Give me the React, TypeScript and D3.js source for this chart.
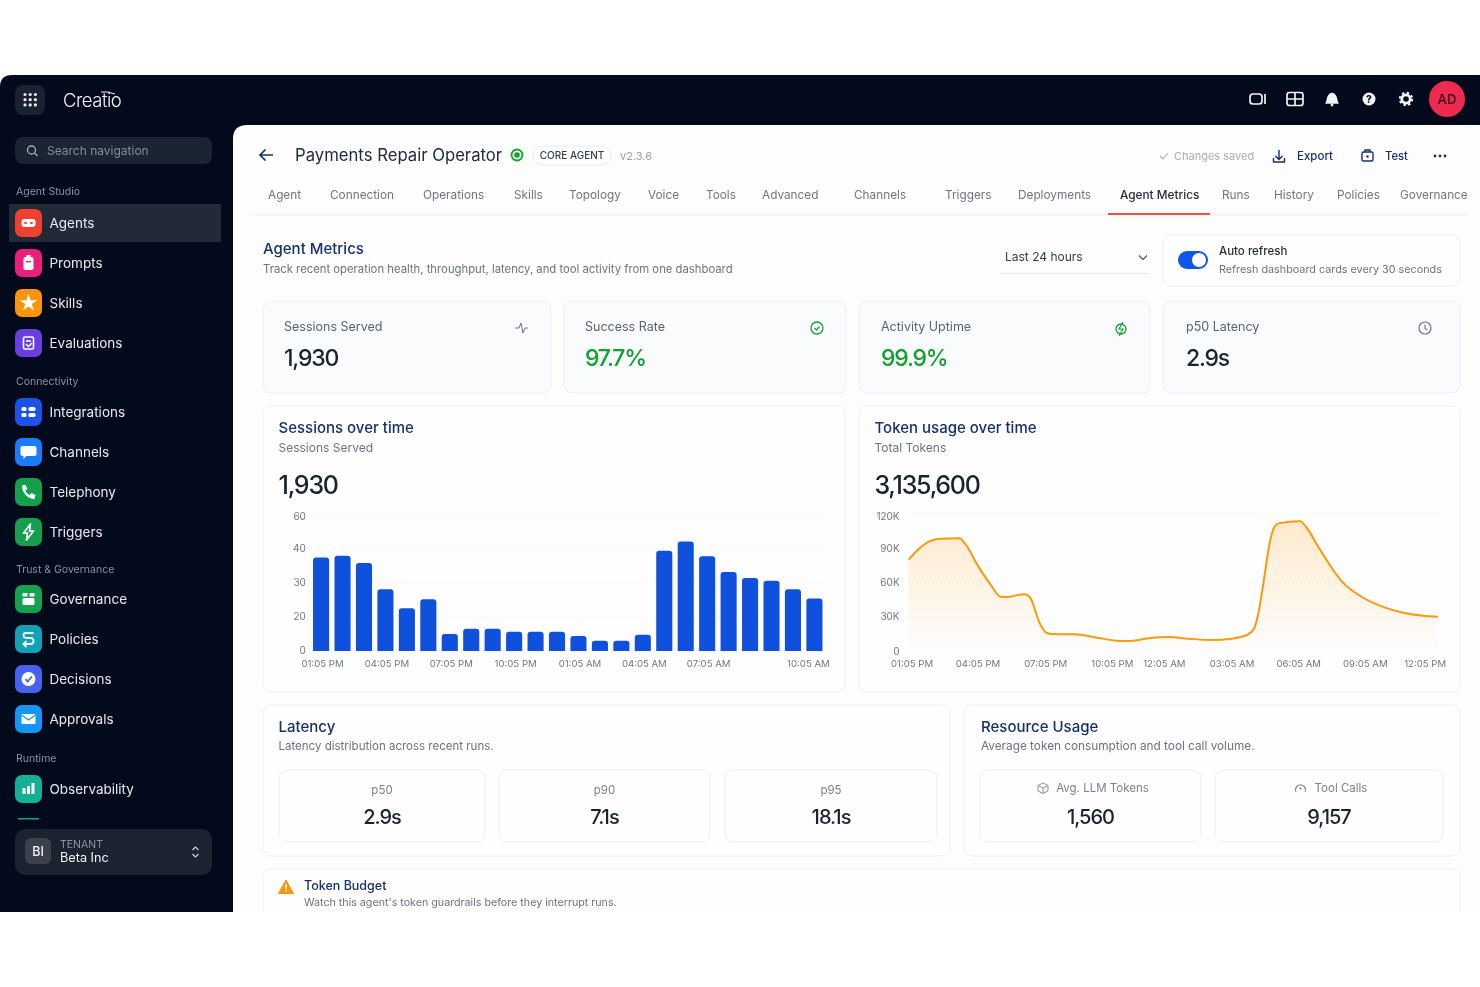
import React, { useEffect, useRef } from 'react';
import * as d3 from 'd3';

const FONT = 'Inter, "Noto Sans", sans-serif';
const NAVY = '#16306b';
const GRAY = '#6b7280';

// sessions chart, one bar per hour
const sessionLabels = ['01:05 PM', '', '', '04:05 PM', '', '', '07:05 PM', '', '', '10:05 PM', '', '', '01:05 AM', '', '', '04:05 AM', '', '', '07:05 AM', '', '', '', '', '10:05 AM'];
const sessionValues = [37.3, 37.8, 35.7, 28, 22.5, 25.1, 9.9, 13, 13, 11.3, 11.3, 11.3, 8.7, 6, 6, 9.5, 39.3, 43.9, 37.7, 33.1, 31.3, 30.5, 28, 25.3];
// the y labels are evenly spaced in the picture even though the steps differ
const sessionTicks = [0, 20, 30, 40, 60];

// token chart, hours since 01:05 PM
const tokenHours = [0, 0.39, 0.9, 1.32, 2.25, 2.5, 3.1, 3.6, 4.08, 4.29, 5.14, 5.36, 5.81, 6.07, 6.32, 7.34, 8.36, 9.2, 9.71, 10.73, 11.5, 12.4, 13.44, 14.3, 14.97, 15.3, 15.47, 15.73, 15.98, 16.24, 16.41, 17.34, 17.6, 18.19, 19.2, 20.05, 21.07, 21.9, 22.76, 23.44];
const tokenValues = [80000, 88300, 95800, 98200, 98700, 94000, 73700, 59000, 47500, 47200, 49800, 47500, 24200, 16300, 14900, 14600, 11700, 9000, 8700, 11400, 12200, 10800, 9600, 10800, 14000, 19800, 31500, 62000, 94000, 110000, 112000, 113600, 108600, 89700, 60600, 47500, 38200, 33500, 30900, 30000];
const tokenTicks = [0, 30000, 60000, 90000, 120000];
const tokenTickHours = [0.13, 3.05, 6.05, 9, 11.3, 14.3, 17.25, 20.2, 22.85];
const tokenTickLabels = ['01:05 PM', '04:05 PM', '07:05 PM', '10:05 PM', '12:05 AM', '03:05 AM', '06:05 AM', '09:05 AM', '12:05 PM'];

const navGroups = [
  { title: 'Agent Studio', y: 195 },
  { title: 'Connectivity', y: 385 },
  { title: 'Trust & Governance', y: 573 },
  { title: 'Runtime', y: 762 },
];
const navNames = ['Agents', 'Prompts', 'Skills', 'Evaluations', 'Integrations', 'Channels', 'Telephony', 'Triggers', 'Governance', 'Policies', 'Decisions', 'Approvals', 'Observability'];
const navY = [223, 263, 303, 343, 412, 452, 492, 532, 599, 639, 679, 719, 789];
const navColors = ['#ef4030', '#e81f7c', '#ff9408', '#6a3fe0', '#1c52e6', '#1a7bfb', '#15a04d', '#15a04d', '#14a24f', '#10a3b5', '#4663ef', '#1596f6', '#13b096'];

const tabNames = ['Agent', 'Connection', 'Operations', 'Skills', 'Topology', 'Voice', 'Tools', 'Advanced', 'Channels', 'Triggers', 'Deployments', 'Agent Metrics', 'Runs', 'History', 'Policies', 'Governance'];
const tabX = [268, 330, 423, 514, 569, 648, 706, 762, 854, 945, 1018, 1120, 1222, 1274, 1337, 1400];

const kpiNames = ['Sessions Served', 'Success Rate', 'Activity Uptime', 'p50 Latency'];
const kpiValues = ['1,930', '97.7%', '99.9%', '2.9s'];
const kpiColors = ['#1b2230', '#12a02f', '#12a02f', '#1b2230'];
const kpiX = [263, 564, 859, 1163];
const kpiW = [288, 282, 291, 297];
const kpiTextX = [284, 585, 881, 1186];

const topBarIconX = [1258, 1295, 1332, 1369, 1406];

function roundedTop(x: number, y: number, w: number, h: number, r: number) {
  const p = d3.path();
  p.moveTo(x, y + h);
  p.lineTo(x, y + r);
  p.quadraticCurveTo(x, y, x + r, y);
  p.lineTo(x + w - r, y);
  p.quadraticCurveTo(x + w, y, x + w, y + r);
  p.lineTo(x + w, y + h);
  p.closePath();
  return p.toString();
}

function styleAxis(g: any, size = 10) {
  g.select('.domain').remove();
  g.selectAll('text').attr('fill', '#6f7683').style('font-size', `${size}px`).style('font-family', FONT);
}

function SessionsChart() {
  const ref = useRef<SVGGElement>(null);
  useEffect(() => {
    const g = d3.select(ref.current);
    g.selectAll('*').remove();
    const left = 310.9, right = 824.6, top = 514, bottom = 651;

    const x = d3.scaleBand<number>().domain(d3.range(sessionValues.length)).range([left, right]).paddingInner(0.25).paddingOuter(0.1);
    const y = d3.scaleLinear().domain(sessionTicks).range(sessionTicks.map((_, i) => bottom - (i * (bottom - top)) / (sessionTicks.length - 1)));

    const yAxis = g.append('g').attr('transform', `translate(${left},0)`)
      .call(d3.axisLeft(y).tickValues(sessionTicks).tickSize(-(right - left)).tickPadding(5) as any);
    styleAxis(yAxis);
    yAxis.selectAll('line').attr('stroke', '#e6e8ec').attr('stroke-dasharray', '1,3');
    yAxis.selectAll('.tick').filter((d: any) => d === 0).select('line').remove();
    yAxis.selectAll('.tick').filter((d: any) => d === 60).select('text').attr('dy', '0.32em').attr('y', 2);
    yAxis.selectAll('.tick').filter((d: any) => d === 0).select('text').attr('y', -1);

    g.selectAll('.bar').data(sessionValues).enter().append('path')
      .attr('class', 'bar')
      .attr('fill', '#0f50dc')
      .attr('d', (d, i) => roundedTop(x(i) as number, y(d), x.bandwidth(), bottom - y(d), 3));

    const xAxis = g.append('g').attr('transform', `translate(0,${bottom})`)
      .call(d3.axisBottom(x).tickSize(0).tickPadding(9).tickFormat((i: any) => sessionLabels[i]) as any);
    styleAxis(xAxis, 9.6);
    xAxis.selectAll('text').attr('dx', 1.5);
    // last label is pulled in so it stays inside the card
    xAxis.selectAll('.tick').filter((d: any) => d === sessionValues.length - 1).select('text').attr('dx', -6);
  }, []);
  return <g ref={ref} />;
}

function TokensChart() {
  const ref = useRef<SVGGElement>(null);
  useEffect(() => {
    const g = d3.select(ref.current);
    g.selectAll('*').remove();
    const left = 908.6, right = 1438, top = 514, bottom = 651;

    const x = d3.scaleLinear().domain([0, 23.44]).range([left, right]);
    const y = d3.scaleLinear().domain([0, 120000]).range([bottom, top]);

    const yAxis = g.append('g').attr('transform', `translate(${left},0)`)
      .call(d3.axisLeft(y).tickValues(tokenTicks).tickSize(-(right - left)).tickPadding(9)
        .tickFormat((d: any) => (d === 0 ? '0' : `${d / 1000}K`)) as any);
    styleAxis(yAxis);
    yAxis.selectAll('line').attr('stroke', '#e6e8ec').attr('stroke-dasharray', '1,3');
    yAxis.selectAll('.tick').filter((d: any) => d === 0).select('line').remove();
    yAxis.selectAll('.tick').filter((d: any) => d === 120000).select('text').attr('y', 2);

    const pts = tokenHours.map((h, i) => [h, tokenValues[i]] as [number, number]);
    g.append('path').datum(pts)
      .attr('fill', 'url(#tokenFill)')
      .attr('d', d3.area<[number, number]>().x((d) => x(d[0])).y0(bottom).y1((d) => y(d[1])).curve(d3.curveMonotoneX));
    g.append('path').datum(pts)
      .attr('fill', 'none')
      .attr('stroke', '#fa9a0f')
      .attr('stroke-width', 2)
      .attr('d', d3.line<[number, number]>().x((d) => x(d[0])).y((d) => y(d[1])).curve(d3.curveMonotoneX));

    const xAxis = g.append('g').attr('transform', `translate(0,${bottom})`)
      .call(d3.axisBottom(x).tickValues(tokenTickHours).tickSize(0).tickPadding(9)
        .tickFormat((_: any, i: number) => tokenTickLabels[i]) as any);
    styleAxis(xAxis, 9.6);
  }, []);
  return <g ref={ref} />;
}

function NavGlyph({ i }: { i: number }) {
  const c = navColors[i];
  const w = '#fff';
  switch (i) {
    case 0:
      return <g><rect x={-7} y={-4} width={14} height={8} rx={3} fill={w} /><circle cx={-3} r={1.3} fill={c} /><circle cx={3} r={1.3} fill={c} /></g>;
    case 1:
      return <g><rect x={-5} y={-6} width={10} height={13} rx={2} fill={w} /><rect x={-2} y={-8} width={4} height={3} fill={w} /><rect x={-2.5} y={-2} width={5} height={1.4} fill={c} /></g>;
    case 2:
      return <path d={d3.symbol(d3.symbolStar, 95)() as string} fill={w} />;
    case 3:
      return <g><rect x={-5} y={-6} width={10} height={12} rx={1.5} fill="none" stroke={w} strokeWidth={1.6} /><path d="M-2.5,-2H2.5M-2.5,1L0,3.5L3.5,0" stroke={w} strokeWidth={1.3} fill="none" /></g>;
    case 4:
      return <g fill={w}><rect x={-7} y={-5} width={5} height={4} rx={1.5} /><rect x={0} y={-5} width={7} height={4} rx={1.5} /><rect x={-7} y={1} width={5} height={4} rx={1.5} /><rect x={0} y={1} width={7} height={4} rx={1.5} /></g>;
    case 5:
      return <path d="M-6,-6H6a2,2 0 0 1 2,2V2a2,2 0 0 1 -2,2H-2L-5,7V4H-6a2,2 0 0 1 -2,-2V-4a2,2 0 0 1 2,-2Z" fill={w} />;
    case 6:
      return <path d="M-6,-7C-8,-1 -1,7 6,7L7,3L3,1L1,3C-1,2 -3,0 -3,-2L-1,-3L-3,-7Z" fill={w} />;
    case 7:
      return <path d="M2,-8L-5,1H-1L-2,8L5,-1H1Z" fill="none" stroke={w} strokeWidth={1.7} strokeLinejoin="round" />;
    case 8:
      return <g fill={w}><rect x={-6} y={-1} width={12} height={7} rx={1.5} /><rect x={-6} y={-6} width={5} height={3.5} /><rect x={1} y={-6} width={5} height={3.5} /></g>;
    case 9:
      return <path d="M5,-6H-3Q-5,-6 -5,-3.5Q-5,-1 -2,-1H2Q5,-1 5,2Q5,5 2,5H-5M-2,2L-5,5L-2,8" fill="none" stroke={w} strokeWidth={1.8} />;
    case 10:
      return <g><circle r={7} fill={w} /><path d="M-3,0L-1,2.5L3.5,-2.5" fill="none" stroke={c} strokeWidth={1.8} /></g>;
    case 11:
      return <g><rect x={-7} y={-5} width={14} height={10} rx={1} fill={w} /><path d="M-7,-4L0,1L7,-4" fill="none" stroke={c} strokeWidth={1.3} /></g>;
    default:
      return <g fill={w}><rect x={-6} y={-1} width={3} height={6} /><rect x={-1.5} y={-3} width={3} height={8} /><rect x={3} y={-6} width={3} height={11} /></g>;
  }
}

function Txt({ x, y, size, fill = GRAY, weight = 400, anchor = 'start', spacing, children }: any) {
  return <text x={x} y={y} fontSize={size} fill={fill} fontWeight={weight} textAnchor={anchor} letterSpacing={spacing}>{children}</text>;
}

function Card({ x, y, w, h, fill = '#fefefe' }: any) {
  return <rect x={x} y={y} width={w} height={h} rx={8} fill={fill} stroke="#eef0f4" />;
}

function Sidebar() {
  return (
    <g>
      <rect x={15} y={85} width={30} height={30} rx={8} fill="#1a2130" />
      {d3.range(9).map((i) => (
        <circle key={i} cx={25 + (i % 3) * 5.2} cy={94.5 + Math.floor(i / 3) * 5.2} r={1.6} fill="#e8eaee" />
      ))}
      <Txt x={63} y={107} size={18.5} fill="#f3f4f6" weight={300} spacing={-0.5}>Creatio</Txt>
      <path d="M101,92Q108,91 115,94" fill="none" stroke="#f3f4f6" strokeWidth={1} />
      <rect x={15} y={137} width={197} height={27} rx={8} fill="#1b2433" />
      <circle cx={31.5} cy={150} r={4} fill="none" stroke="#a7adb8" strokeWidth={1.3} />
      <path d="M34.5,153L37.5,156" stroke="#a7adb8" strokeWidth={1.3} />
      <Txt x={47} y={155} size={12} fill="#858d9b">Search navigation</Txt>

      {navGroups.map((g) => <Txt key={g.title} x={16} y={g.y} size={10.5} fill="#8b92a0">{g.title}</Txt>)}
      <rect x={9} y={204} width={212} height={38} fill="#222a38" />
      {navNames.map((name, i) => (
        <g key={name}>
          <rect x={15} y={navY[i] - 14} width={27} height={28} rx={7} fill={navColors[i]} />
          <g transform={`translate(28.5,${navY[i]})`}><NavGlyph i={i} /></g>
          <Txt x={49.5} y={navY[i] + 5} size={13.5} fill="#e8eaee">{name}</Txt>
        </g>
      ))}
      <rect x={18} y={818} width={21} height={1.5} fill="#12a883" />

      <rect x={15} y={829} width={197} height={46} rx={10} fill="#1b2230" />
      <rect x={25} y={838} width={26} height={26} rx={6} fill="#3a404c" />
      <Txt x={38} y={856} size={12.5} fill="#f3f4f6" weight={500} anchor="middle">BI</Txt>
      <Txt x={60} y={848} size={10.5} fill="#8e95a2">TENANT</Txt>
      <Txt x={60} y={862} size={12.7} fill="#f3f4f6">Beta Inc</Txt>
      <path d="M192.5,850L195.5,847L198.5,850M192.5,854L195.5,857L198.5,854" fill="none" stroke="#cfd3da" strokeWidth={1.2} />
    </g>
  );
}

function TopBarIcons() {
  const [a, b, c, d, e] = topBarIconX;
  return (
    <g stroke="#f2f3f5" fill="none" strokeWidth={1.7}>
      <rect x={a - 8} y={94} width={12} height={10} rx={3} />
      <path d={`M${a + 7},94V104`} />
      <rect x={b - 8} y={92.5} width={16} height={13} rx={2.5} />
      <path d={`M${b - 8},99H${b + 8}M${b},92.5V105.5`} />
      <path d={`M${c - 5.5},103C${c - 4},100 ${c - 5},94 ${c},93.5C${c + 5},94 ${c + 4},100 ${c + 5.5},103Z`} fill="#f2f3f5" />
      <circle cx={c} cy={105} r={1.4} fill="#f2f3f5" stroke="none" />
      <circle cx={d} cy={99} r={6.5} fill="#f2f3f5" stroke="none" />
      <text x={d} y={103} fontSize={10} fontWeight={800} textAnchor="middle" fill="#050b1c" stroke="none">?</text>
      <circle cx={e} cy={99} r={4.2} strokeWidth={2.8} />
      <circle cx={e} cy={99} r={6.2} strokeWidth={2} strokeDasharray="2.4 2.47" />
      <circle cx={1447} cy={99} r={18} fill="#ee2b4f" stroke="none" />
      <text x={1447} y={104} fontSize={13} fontWeight={600} textAnchor="middle" fill="#4a1023" stroke="none">AD</text>
    </g>
  );
}

function Header() {
  return (
    <g>
      <path d="M273,155H260M265.5,149.5L260,155L265.5,160.5" fill="none" stroke={NAVY} strokeWidth={1.7} />
      <Txt x={295} y={161} size={16.7} fill="#222b3a">Payments Repair Operator</Txt>
      <circle cx={517} cy={155} r={5.5} fill="none" stroke="#12a02f" strokeWidth={1.8} />
      <circle cx={517} cy={155} r={2.8} fill="#12a02f" />
      <rect x={533} y={146} width={78} height={19} rx={9.5} fill="#fff" stroke="#e8eaee" />
      <Txt x={572} y={159} size={10} fill="#333c4a" weight={500} anchor="middle">CORE AGENT</Txt>
      <Txt x={620} y={160} size={11} fill="#9aa1ac">v2.3.6</Txt>
      <path d="M1160,156L1163,159L1168,153" fill="none" stroke="#a7adb6" strokeWidth={1.1} />
      <Txt x={1174} y={160} size={11} fill="#a7adb6">Changes saved</Txt>
      <path d="M1279,150V159M1275.5,156L1279,159.5L1282.5,156M1273.5,158V162H1284.5V158" fill="none" stroke={NAVY} strokeWidth={1.4} />
      <Txt x={1297} y={160} size={11.5} fill={NAVY} weight={500}>Export</Txt>
      <rect x={1362} y={152} width={11} height={9} rx={1.5} fill="none" stroke={NAVY} strokeWidth={1.4} />
      <path d="M1365,152V150H1370V152" fill="none" stroke={NAVY} strokeWidth={1.4} />
      <circle cx={1367.5} cy={156.5} r={1.2} fill={NAVY} />
      <Txt x={1385} y={160} size={11.2} fill={NAVY} weight={500}>Test</Txt>
      {[-5, 0, 5].map((d) => <circle key={d} cx={1440 + d} cy={156} r={1.4} fill={NAVY} />)}

      {tabNames.map((t, i) => (
        <Txt key={t + i} x={tabX[i]} y={199} size={11.8} fill={t === 'Agent Metrics' ? '#1f2937' : '#6f7683'} weight={t === 'Agent Metrics' ? 500 : 400}>{t}</Txt>
      ))}
      <rect x={255} y={214} width={1213} height={1.5} fill="#eef0f3" />
      <rect x={1108} y={213} width={102} height={2} fill="#f0503c" />

      <Txt x={263} y={254} size={15} fill={NAVY} weight={500}>Agent Metrics</Txt>
      <Txt x={263} y={273} size={11.3}>Track recent operation health, throughput, latency, and tool activity from one dashboard</Txt>
      <Txt x={1005} y={261} size={12} fill="#333c4a">Last 24 hours</Txt>
      <path d="M1139,255.5L1143,259.5L1147,255.5" fill="none" stroke="#4b5563" strokeWidth={1.2} />
      <rect x={1000} y={273} width={149} height={1} fill="#e8eaee" />
      <Card x={1163} y={235} w={297} h={51} />
      <rect x={1178} y={251} width={30} height={18} rx={9} fill="#1156e8" />
      <circle cx={1199} cy={260} r={7} fill="#fff" />
      <Txt x={1219} y={255} size={11.5} fill="#1f2937" weight={500}>Auto refresh</Txt>
      <Txt x={1219} y={273} size={10.8}>Refresh dashboard cards every 30 seconds</Txt>
    </g>
  );
}

function KpiRow() {
  return (
    <g>
      {kpiNames.map((n, i) => (
        <g key={n}>
          <Card x={kpiX[i]} y={301} w={kpiW[i]} h={92} fill="#fafbfd" />
          <Txt x={kpiTextX[i]} y={331} size={12.5} fill="#5b6270">{n}</Txt>
          <Txt x={kpiTextX[i]} y={366} size={23} fill={kpiColors[i]} weight={500} spacing={-1.2}>{kpiValues[i]}</Txt>
        </g>
      ))}
      <path d="M515,328H519L521,323L523,333L525,328H528" fill="none" stroke="#6b7280" strokeWidth={1} />
      <circle cx={817} cy={328} r={6} fill="none" stroke="#12a02f" strokeWidth={1.3} />
      <path d="M814.5,328L816.5,330L819.5,326.5" fill="none" stroke="#12a02f" strokeWidth={1.2} />
      <circle cx={1121} cy={329} r={5} fill="none" stroke="#12a02f" strokeWidth={1.3} />
      <path d="M1123,322L1119,329H1123L1119,336" fill="none" stroke="#12a02f" strokeWidth={1.1} />
      <circle cx={1425} cy={328} r={6} fill="none" stroke="#6b7280" strokeWidth={1.2} />
      <path d="M1425,324.5V328.5L1427.5,330" fill="none" stroke="#6b7280" strokeWidth={1.1} />
    </g>
  );
}

function StatCard({ x, w, label, value, icon }: any) {
  const cx = x + w / 2;
  return (
    <g>
      <Card x={x} y={770} w={w} h={72} />
      <Txt x={cx + (icon ? 12 : 0)} y={icon ? 792 : 794} size={11.5} fill="#7b828f" anchor="middle">{label}</Txt>
      <Txt x={cx} y={824} size={20} fill="#1b2230" weight={500} anchor="middle" spacing={-1}>{value}</Txt>
    </g>
  );
}

export default function App() {
  return (
    <svg width={1480} height={987} viewBox="0 0 1480 987" fontFamily={FONT}
      style={{ position: 'absolute', left: 0, top: 0, display: 'block', background: '#fff', filter: 'blur(0.3px)' }}>
      <defs>
        <linearGradient id="tokenFill" x1="0" y1="0" x2="0" y2="1">
          <stop offset="0%" stopColor="#fa9a0f" stopOpacity={0.2} />
          <stop offset="100%" stopColor="#fa9a0f" stopOpacity={0.01} />
        </linearGradient>
        <clipPath id="pageClip"><rect x={0} y={0} width={1480} height={912} /></clipPath>
      </defs>
      <g clipPath="url(#pageClip)">
        <path d="M0,912V87Q0,75 12,75H1480V912Z" fill="#030a1b" />
        <path d="M233,912V139Q233,125 247,125H1480V912Z" fill="#fdfdfe" />
        <Sidebar />
        <TopBarIcons />
        <Header />
        <KpiRow />

        <Card x={263} y={406} w={582} h={286} />
        <Txt x={278.5} y={433} size={15} fill={NAVY} weight={500}>Sessions over time</Txt>
        <Txt x={278.5} y={452} size={12}>Sessions Served</Txt>
        <Txt x={278.5} y={494} size={25} fill="#1b2230" weight={500} spacing={-1.2}>1,930</Txt>
        <SessionsChart />

        <Card x={859} y={406} w={601} h={286} />
        <Txt x={874.5} y={433} size={15} fill={NAVY} weight={500}>Token usage over time</Txt>
        <Txt x={874.5} y={452} size={12}>Total Tokens</Txt>
        <Txt x={874.5} y={494} size={25} fill="#1b2230" weight={500} spacing={-1.25}>3,135,600</Txt>
        <TokensChart />

        <Card x={263} y={705} w={687} h={151} />
        <Txt x={278.5} y={732} size={15} fill={NAVY} weight={500}>Latency</Txt>
        <Txt x={278.5} y={750} size={11.5}>Latency distribution across recent runs.</Txt>
        <StatCard x={279} w={206} label="p50" value="2.9s" />
        <StatCard x={499} w={211} label="p90" value="7.1s" />
        <StatCard x={725} w={212} label="p95" value="18.1s" />

        <Card x={964} y={705} w={496} h={151} />
        <Txt x={981} y={732} size={15} fill={NAVY} weight={500}>Resource Usage</Txt>
        <Txt x={981} y={750} size={11.8}>Average token consumption and tool call volume.</Txt>
        <StatCard x={980} w={221} label="Avg. LLM Tokens" value="1,560" icon />
        <StatCard x={1215} w={228} label="Tool Calls" value="9,157" icon />
        <path d="M1043,783L1048,785.5V791L1043,793.5L1038,791V785.5ZM1038,785.5L1043,788L1048,785.5M1043,788V793.5" fill="none" stroke="#8b92a0" strokeWidth={1} />
        <path d="M1296,792A5,5 0 1 1 1305,792" fill="none" stroke="#6b7280" strokeWidth={1.1} />
        <circle cx={1300.5} cy={788.5} r={1} fill="#6b7280" />

        <Card x={263} y={869} w={1197} h={70} />
        <path d="M286,880L293.5,893.5H278.5Z" fill="#f59a0e" stroke="#f59a0e" strokeLinejoin="round" />
        <rect x={285.3} y={884} width={1.4} height={5} fill="#fff" />
        <circle cx={286} cy={891} r={0.8} fill="#fff" />
        <Txt x={304} y={890} size={12.5} fill={NAVY} weight={500}>Token Budget</Txt>
        <Txt x={304} y={906} size={10.7}>Watch this agent's token guardrails before they interrupt runs.</Txt>
      </g>
    </svg>
  );
}
